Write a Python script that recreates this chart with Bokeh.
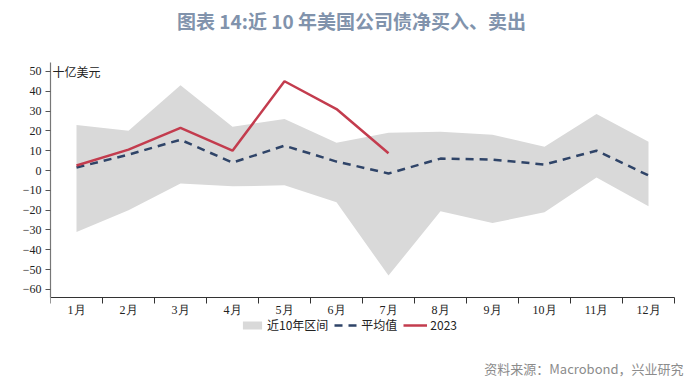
from bokeh.plotting import figure
from bokeh.models import (Range1d, FixedTicker, Label, Legend, LegendItem, ColumnDataSource)
from bokeh.embed import file_html
from bokeh.resources import INLINE

months = ["1月", "2月", "3月", "4月", "5月", "6月", "7月", "8月", "9月", "10月", "11月", "12月"]
band_upper = [23, 20, 43, 22, 26, 14, 19, 19.5, 18, 12, 28.5, 14.5]
band_lower = [-31, -20, -6.5, -8, -7.5, -16, -53, -20.5, -26.5, -21, -3.5, -18]
mean_vals = [1.5, 8, 15.5, 4, 12.5, 4.5, -1.5, 6, 5.5, 3, 10, -2.5]
y2023 = [2.5, 10.5, 21.5, 10, 45, 31, 8.7]
y_ticks = [-60, -50, -40, -30, -20, -10, 0, 10, 20, 30, 40, 50]
y_axis_min, y_axis_max = -64, 54.5
x_axis_min, x_axis_max = 0.5, 12.5

x = list(range(1, 13))

W, H = 692, 381
LEFT = 50
PX_PER_UNIT = 1.983
ZERO_PX = 170  # page y of value 0
PX_PER_MONTH = 52
y_top = ZERO_PX / PX_PER_UNIT
y_bot = -(H - ZERO_PX) / PX_PER_UNIT
x_right = x_axis_min + (W - LEFT) / PX_PER_MONTH

p = figure(width=W, height=H, output_backend="svg", toolbar_location=None,
           x_range=Range1d(x_axis_min, x_right), y_range=Range1d(y_bot, y_top),
           min_border_left=LEFT, min_border_right=0, min_border_top=0, min_border_bottom=0)
p.outline_line_color = None
p.grid.visible = False
p.background_fill_color = "white"
p.border_fill_color = "white"

src = ColumnDataSource(dict(x=x, up=band_upper, lo=band_lower, m=mean_vals))
band = p.varea(x="x", y1="lo", y2="up", source=src, fill_color="#D9D9D9")
mean_r = p.line(x="x", y="m", source=src, line_color="#2F4468", line_width=2.5, line_dash="8 6")
red_r = p.line(x=x[:len(y2023)], y=y2023, line_color="#C33C4E", line_width=2.5)

# x axis
xa = p.xaxis[0]
xa.fixed_location = y_axis_min
xa.bounds = (x_axis_min, x_axis_max)
xa.ticker = FixedTicker(ticks=x, minor_ticks=[i + 0.5 for i in range(0, 13)])
xa.major_label_overrides = {i: m for i, m in zip(x, months)}
xa.major_tick_line_color = None
xa.minor_tick_out = 6
xa.minor_tick_in = 0
xa.minor_tick_line_color = "#333333"
xa.axis_line_color = "#333333"
xa.axis_line_width = 1.2
xa.major_label_text_font = "Liberation Serif"
xa.major_label_text_font_size = "12px"
xa.major_label_text_color = "#222222"
xa.major_label_standoff = 0

ya = p.yaxis[0]
ya.bounds = (y_axis_min, y_axis_max)
ya.ticker = FixedTicker(ticks=y_ticks)
ya.minor_tick_line_color = None
ya.major_tick_out = 5
ya.major_tick_in = 0
ya.major_tick_line_color = "#555555"
ya.axis_line_color = "#777777"
ya.axis_line_width = 1.2
ya.major_label_text_font = "Liberation Serif"
ya.major_label_text_font_size = "12px"
ya.major_label_text_color = "#222222"
ya.major_label_standoff = 4

# texts, screen units relative to frame bottom-left (page (50, H))
p.add_layout(Label(x=301, y=H - 20, x_units="screen", y_units="screen",
                   text="图表 14:近 10 年美国公司债净买入、卖出", text_align="center",
                   text_baseline="middle", text_font="Noto Sans CJK SC", text_font_size="19px",
                   text_font_style="bold", text_color="#8193AC"))
p.add_layout(Label(x=2, y=H - 71, x_units="screen", y_units="screen",
                   text="十亿美元", text_align="left", text_baseline="middle",
                   text_font="Noto Sans CJK SC", text_font_size="12px", text_color="#222222"))
p.add_layout(Label(x=633, y=H - 368, x_units="screen", y_units="screen",
                   text="资料来源：Macrobond，兴业研究", text_align="right", text_baseline="middle",
                   text_font="Noto Sans CJK SC", text_font_size="13px", text_color="#8C8C8C"))

legend = Legend(items=[LegendItem(label="近10年区间", renderers=[band]),
                       LegendItem(label="平均值", renderers=[mean_r]),
                       LegendItem(label="2023", renderers=[red_r])],
                orientation="horizontal", location=(190, H - 333),
                label_text_font="Noto Sans CJK SC", label_text_font_size="12px",
                label_text_color="#222222", glyph_width=24, glyph_height=10,
                label_standoff=3, spacing=6, padding=0, margin=0,
                background_fill_alpha=0, border_line_color=None)
p.add_layout(legend, "center")

open("out.html", "w").write(file_html(p, INLINE))
